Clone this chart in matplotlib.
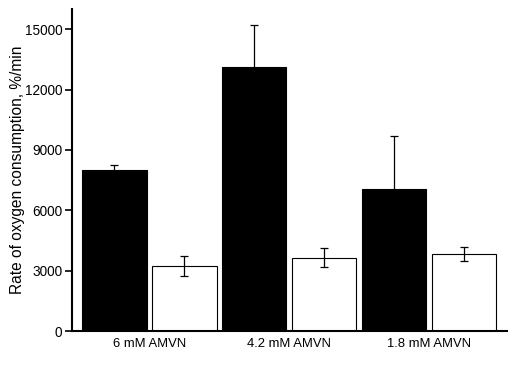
import matplotlib
matplotlib.use('Agg')
import matplotlib.pyplot as plt
import numpy as np

plt.rcParams['font.family'] = ['Liberation Sans', 'DejaVu Sans']

# values
groups = ['6 mM AMVN', '4.2 mM AMVN', '1.8 mM AMVN']
black_vals = [8000, 13100, 7050]
black_err = [250, 2120, 2650]
white_vals = [3250, 3650, 3820]
white_err = [500, 480, 330]
yticks = [0, 3000, 6000, 9000, 12000, 15000]

fig = plt.figure(figsize=(5.16, 3.66), dpi=100)
ax = fig.add_axes([0.1395, 0.0956, 0.843, 0.8798])

x = np.arange(len(groups))
w = 0.46
off = 0.25

ax.bar(x - off, black_vals, w, color='black', edgecolor='black', linewidth=0.8, zorder=2)
ax.bar(x + off, white_vals, w, color='white', edgecolor='black', linewidth=0.8, zorder=2)
ax.errorbar(x - off, black_vals, yerr=black_err, fmt='none', ecolor='black',
            elinewidth=0.9, capsize=2.8, capthick=0.9, zorder=1)
ax.errorbar(x + off, white_vals, yerr=white_err, fmt='none', ecolor='black',
            elinewidth=0.9, capsize=2.8, capthick=0.9, zorder=3)

ax.set_xlim(-0.554, 2.558)
ax.set_ylim(0, 16000)
ax.set_yticks(yticks)
ax.set_xticks(x)
ax.set_xticklabels(groups, fontsize=9.4)
ax.tick_params(axis='x', length=0, pad=5)
ax.tick_params(axis='y', length=5, width=1.2, labelsize=9.8, pad=2)

for s in ['top', 'right']:
    ax.spines[s].set_visible(False)
for s in ['left', 'bottom']:
    ax.spines[s].set_linewidth(1.5)

ax.set_ylabel('Rate of oxygen consumption, %/min', fontsize=11.2, labelpad=0)

fig.savefig('out.png', dpi=100)
